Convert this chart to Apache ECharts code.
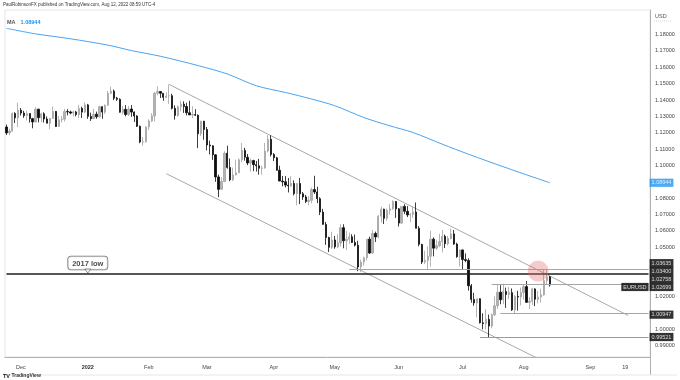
<!DOCTYPE html>
<html><head><meta charset="utf-8">
<script src="https://cdn.jsdelivr.net/npm/echarts@6/dist/echarts.min.js"></script>
<style>html,body{margin:0;padding:0;background:#fff}#c{width:680px;height:380px}</style>
</head><body><div id="c"></div>
<script>
// ---------- data (daily EURUSD, [open, high, low, close]) ----------
const startDate = '2021-11-24';
const nAxisDays = 222; // weekdays shown on the time axis (data + right margin)

const nov21 = [[1.1235,1.1250,1.1186,1.1199],[1.1199,1.1225,1.1184,1.1210],[1.1210,1.1324,1.1205,1.1318],[1.1318,1.1325,1.1259,1.1291],[1.1291,1.1383,1.1235,1.1338]];
const dec21 = [[1.1338,1.1351,1.1305,1.1320],[1.1320,1.1334,1.1291,1.1304],[1.1304,1.1334,1.1275,1.1317],[1.1317,1.1319,1.1262,1.1286],[1.1286,1.1291,1.1227,1.1266],
  [1.1266,1.1355,1.1263,1.1344],[1.1344,1.1346,1.1263,1.1292],[1.1292,1.1321,1.1264,1.1316],[1.1316,1.1325,1.1262,1.1284],[1.1284,1.1300,1.1258,1.1258],
  [1.1258,1.1289,1.1222,1.1288],[1.1288,1.1360,1.1284,1.1330],[1.1330,1.1333,1.1235,1.1238],[1.1238,1.1302,1.1236,1.1279],[1.1279,1.1302,1.1262,1.1283],
  [1.1283,1.1346,1.1268,1.1329],[1.1329,1.1344,1.1306,1.1327],[1.1327,1.1335,1.1313,1.1320],[1.1320,1.1334,1.1300,1.1327],[1.1327,1.1333,1.1300,1.1311],
  [1.1311,1.1370,1.1290,1.1349],[1.1349,1.1359,1.1290,1.1326],[1.1326,1.1386,1.1320,1.1370]];
const jan22 = [[1.1370,1.1376,1.1285,1.1300],[1.1300,1.1323,1.1272,1.1286],[1.1286,1.1346,1.1285,1.1313],[1.1313,1.1329,1.1285,1.1297],[1.1297,1.1364,1.1293,1.1359],
  [1.1359,1.1361,1.1285,1.1326],[1.1326,1.1373,1.1315,1.1368],[1.1368,1.1455,1.1364,1.1441],[1.1441,1.1482,1.1436,1.1454],[1.1454,1.1464,1.1399,1.1411],
  [1.1411,1.1419,1.1394,1.1404],[1.1404,1.1410,1.1323,1.1325],[1.1325,1.1363,1.1312,1.1343],[1.1343,1.1369,1.1300,1.1311],[1.1311,1.1363,1.1303,1.1345],
  [1.1345,1.1369,1.1297,1.1326],[1.1326,1.1330,1.1266,1.1302],[1.1302,1.1307,1.1235,1.1239],[1.1239,1.1244,1.1136,1.1143],[1.1143,1.1174,1.1121,1.1145],
  [1.1145,1.1239,1.1139,1.1235]];
const feb22 = [[1.1235,1.1282,1.1215,1.1272],[1.1272,1.1319,1.1266,1.1303],[1.1303,1.1449,1.1268,1.1441],[1.1441,1.1483,1.1428,1.1452],
  [1.1452,1.1454,1.1412,1.1441],[1.1441,1.1441,1.1395,1.1416],[1.1416,1.1447,1.1410,1.1424],[1.1424,1.1495,1.1376,1.1426],[1.1426,1.1438,1.1342,1.1349],
  [1.1349,1.1367,1.1280,1.1306],[1.1306,1.1367,1.1298,1.1359],[1.1359,1.1395,1.1331,1.1374],[1.1374,1.1392,1.1321,1.1360],[1.1360,1.1383,1.1306,1.1322],
  [1.1322,1.1395,1.1309,1.1309],[1.1309,1.1362,1.1289,1.1311],[1.1311,1.1344,1.1302,1.1307],[1.1307,1.1312,1.1106,1.1194],[1.1194,1.1273,1.1180,1.1270],
  [1.1270,1.1273,1.1157,1.1220]];
const mar22 = [[1.1220,1.1235,1.1092,1.1125],[1.1125,1.1152,1.1068,1.1120],[1.1120,1.1123,1.1034,1.1065],[1.1065,1.1068,1.0900,1.0930],
  [1.0930,1.0944,1.0806,1.0854],[1.0854,1.0929,1.0851,1.0902],[1.0902,1.1087,1.0900,1.1075],[1.1075,1.1121,1.0980,1.0988],[1.0988,1.1043,1.0904,1.0912],
  [1.0912,1.0987,1.0905,1.0942],[1.0942,1.1035,1.0940,1.0955],[1.0955,1.1043,1.0954,1.1035],[1.1035,1.1137,1.1020,1.1092],[1.1092,1.1108,1.1029,1.1050],
  [1.1050,1.1070,1.1002,1.1015],[1.1015,1.1043,1.0961,1.1030],[1.1030,1.1035,1.0965,1.1005],[1.1005,1.1028,1.0963,1.0998],[1.0998,1.1040,1.0944,1.0983],
  [1.0983,1.0998,1.0945,1.0985],[1.0985,1.1138,1.0980,1.1088],[1.1088,1.1185,1.1080,1.1160],[1.1160,1.1184,1.1055,1.1067]];
const apr22 = [[1.1067,1.1076,1.1027,1.1047],
  [1.1047,1.1053,1.0968,1.0971],[1.0971,1.0998,1.0904,1.0905],[1.0905,1.0936,1.0873,1.0900],[1.0900,1.0935,1.0866,1.0880],[1.0880,1.0924,1.0835,1.0875],
  [1.0875,1.0935,1.0870,1.0890],[1.0890,1.0909,1.0817,1.0828],[1.0828,1.0891,1.0757,1.0890],[1.0890,1.0924,1.0764,1.0827],[1.0827,1.0838,1.0790,1.0808],
  [1.0808,1.0820,1.0770,1.0780],[1.0780,1.0812,1.0757,1.0787],[1.0787,1.0865,1.0768,1.0853],[1.0853,1.0937,1.0826,1.0838],[1.0838,1.0870,1.0770,1.0797],
  [1.0797,1.0806,1.0697,1.0715],[1.0715,1.0735,1.0640,1.0640],[1.0640,1.0655,1.0515,1.0560],[1.0560,1.0565,1.0471,1.0500],[1.0500,1.0595,1.0490,1.0545]];
const may22 = [[1.0545,1.0570,1.0491,1.0503],[1.0503,1.0580,1.0495,1.0527],[1.0527,1.0642,1.0505,1.0620],[1.0620,1.0641,1.0494,1.0540],[1.0540,1.0600,1.0483,1.0550],
  [1.0550,1.0590,1.0522,1.0564],[1.0564,1.0580,1.0527,1.0530],[1.0530,1.0578,1.0505,1.0513],[1.0513,1.0540,1.0354,1.0380],[1.0380,1.0425,1.0350,1.0410],
  [1.0410,1.0443,1.0389,1.0436],[1.0436,1.0550,1.0420,1.0550],[1.0550,1.0565,1.0460,1.0465],[1.0465,1.0606,1.0460,1.0585],[1.0585,1.0596,1.0533,1.0563],
  [1.0563,1.0697,1.0555,1.0690],[1.0690,1.0748,1.0650,1.0733],[1.0733,1.0736,1.0642,1.0677],[1.0677,1.0737,1.0662,1.0726],[1.0726,1.0765,1.0700,1.0735],
  [1.0735,1.0787,1.0730,1.0780],[1.0780,1.0781,1.0680,1.0735]];
const jun22 = [[1.0735,1.0740,1.0627,1.0648],[1.0648,1.0751,1.0642,1.0750],[1.0750,1.0763,1.0703,1.0720],
  [1.0720,1.0752,1.0685,1.0698],[1.0698,1.0710,1.0653,1.0701],[1.0701,1.0749,1.0679,1.0716],[1.0716,1.0774,1.0616,1.0616],[1.0616,1.0630,1.0506,1.0518],
  [1.0518,1.0521,1.0398,1.0410],[1.0410,1.0479,1.0397,1.0420],[1.0420,1.0505,1.0359,1.0445],[1.0445,1.0601,1.0382,1.0550],[1.0550,1.0561,1.0445,1.0495],
  [1.0495,1.0547,1.0484,1.0510],[1.0510,1.0583,1.0501,1.0535],[1.0535,1.0606,1.0469,1.0567],[1.0567,1.0578,1.0496,1.0522],[1.0522,1.0570,1.0512,1.0554],
  [1.0554,1.0615,1.0548,1.0582],[1.0582,1.0606,1.0515,1.0520],[1.0520,1.0528,1.0436,1.0443],[1.0443,1.0487,1.0382,1.0484]];
const jul22 = [[1.0484,1.0486,1.0366,1.0425],
  [1.0425,1.0463,1.0409,1.0420],[1.0420,1.0433,1.0235,1.0265],[1.0265,1.0276,1.0162,1.0182],[1.0182,1.0222,1.0143,1.0160],[1.0160,1.0186,1.0072,1.0186],
  [1.0186,1.0188,1.0035,1.0039],[1.0039,1.0097,0.9999,1.0034],[1.0034,1.0122,0.9998,1.0060],[1.0060,1.0089,0.9952,1.0019],[1.0019,1.0096,1.0005,1.0088],
  [1.0088,1.0200,1.0080,1.0143],[1.0143,1.0273,1.0124,1.0226],[1.0226,1.0269,1.0152,1.0180],[1.0180,1.0278,1.0153,1.0230],[1.0230,1.0254,1.0130,1.0212],
  [1.0212,1.0258,1.0184,1.0223],[1.0223,1.0249,1.0111,1.0118],[1.0118,1.0208,1.0097,1.0200],[1.0200,1.0234,1.0113,1.0196],[1.0196,1.0254,1.0145,1.0224]];
const aug22 = [[1.0224,1.0275,1.0180,1.0260],[1.0260,1.0294,1.0160,1.0164],[1.0164,1.0196,1.0123,1.0170],[1.0170,1.0253,1.0148,1.0246],[1.0246,1.0250,1.0141,1.0183],
  [1.0183,1.0234,1.0158,1.0196],[1.0196,1.0248,1.0162,1.0211],[1.0211,1.0368,1.0203,1.0297],[1.0297,1.0364,1.0272,1.0320],[1.0320,1.0325,1.0260,1.0270]];

// 200-day moving average, read at roughly weekly points
const maPoints = [['2021-11-24',1.1838],['2021-12-08',1.1804],['2021-12-24',1.1774],['2022-01-12',1.1735],['2022-01-24',1.1702],
  ['2022-02-07',1.1667],['2022-02-24',1.1610],['2022-03-10',1.1559],['2022-03-24',1.1487],['2022-04-07',1.1446],['2022-04-20',1.1406],
  ['2022-05-02',1.1365],['2022-05-16',1.1293],['2022-05-27',1.1242],['2022-06-08',1.1201],['2022-06-22',1.1130],['2022-07-05',1.1069],
  ['2022-07-22',1.0986],['2022-08-12',1.08944]];

// horizontal levels
const levelValues = [1.03400, 1.03635, 1.02758, 1.00947, 0.99521];
const levelStarts = ['2021-11-24','2022-05-09','2022-07-15','2022-07-20','2022-07-11'];
// channel trend lines [startDate, startValue, endDate, endValue]
const upperChannel = ['2022-02-10', 1.1495, '2022-09-20', 1.00835];
const lowerChannel = ['2022-02-09', 1.0950, '2022-08-08', 0.9820];
const circleMark = ['2022-08-08', 1.0355];
const lowLabel = ['2022-01-03', 1.034, '2017 low'];

// price-axis tags
const tagValues = [1.08944, 1.03635, 1.03400, 1.02758, 1.02699, 1.00947, 0.99521];
const lastPrice = 1.02699;
const symbolName = 'EURUSD';

// axis ticks
const priceTicks = [1.18,1.17,1.16,1.15,1.14,1.13,1.12,1.11,1.10,1.08,1.07,1.06,1.05,1.02,1.00,0.99];
const timeTickDates = ['2021-12-01','2022-01-03','2022-02-01','2022-03-01','2022-04-01','2022-05-02','2022-06-01','2022-07-01','2022-08-01','2022-09-01','2022-09-19'];
const timeTickLabels = ['Dec','2022','Feb','Mar','Apr','May','Jun','Jul','Aug','Sep','19'];

// ---------- build ----------
const categories = [];
{ const d = new Date(startDate + 'T00:00:00Z');
  while (categories.length < nAxisDays) {
    const w = d.getUTCDay();
    if (w !== 0 && w !== 6) categories.push(d.toISOString().slice(0, 10));
    d.setUTCDate(d.getUTCDate() + 1);
  } }
const lastCat = categories[categories.length - 1];
const bars = [].concat(nov21, dec21, jan22, feb22, mar22, apr22, may22, jun22, jul22, aug22);
const candleData = bars.map(b => [b[0], b[3], b[2], b[1]]);

const FONT = '"Liberation Sans", Arial, sans-serif';
const levelStyle = [
  {color: '#1e1e1e', width: 1.5},
  {color: '#a6a6a6', width: 1},
  {color: '#a6a6a6', width: 1},
  {color: '#a6a6a6', width: 1},
  {color: '#9a9a9a', width: 1}
];
const tagStyle = [
  {bg: '#2196f3', dy: 0}, {bg: '#000', dy: -6.5}, {bg: '#000', dy: -2.5},
  {bg: '#000', dy: -5}, {bg: '#000', dy: 2}, {bg: '#000', dy: 1}, {bg: '#000', dy: 0}
];

const chart = echarts.init(document.getElementById('c'), null, {renderer: 'canvas'});
chart.setOption({
  animation: false,
  backgroundColor: '#ffffff',
  textStyle: {fontFamily: FONT},
  title: [
    {text: 'PaulRobinsonFX published on TradingView.com, Aug 12, 2022 08:59 UTC-4', left: 3, top: 2, padding: 0,
     textStyle: {fontSize: 4.5, color: '#333', fontWeight: 'normal', fontFamily: FONT}},
    {text: '{a|MA} {b|' + maPoints[maPoints.length - 1][1].toFixed(5) + '}', left: 7, top: 13, padding: 0,
     textStyle: {fontFamily: FONT, rich: {a: {fontSize: 5.5, color: '#555'}, b: {fontSize: 5.5, color: '#2196f3'}}}},
    {text: 'USD', left: 655, top: 13, padding: 0, textStyle: {fontSize: 5.5, color: '#555', fontWeight: 'normal', fontFamily: FONT}},
    {text: '{l|TV} TradingView', left: 3, top: 373, padding: 0,
     textStyle: {fontFamily: FONT, rich: {l: {fontSize: 5.5, fontWeight: 'bold', color: '#131722'}}, fontSize: 5, color: '#333'}}
  ],
  graphic: [
    {type: 'line', shape: {x1: 650.5, y1: 357, x2: 650.5, y2: 375}, style: {stroke: '#b0b0b0', lineWidth: 1}, silent: true},
    {type: 'line', shape: {x1: 3, y1: 375, x2: 677, y2: 375}, style: {stroke: '#e6e6e6', lineWidth: 1}, silent: true},
    {type: 'line', shape: {x1: 654, y1: 21, x2: 672, y2: 21}, style: {stroke: '#bbb', lineWidth: 0.6, lineDash: [1, 1]}, silent: true}
  ],
  grid: {left: 5, right: 30, top: 10, bottom: 23, show: true, borderColor: '#e6e6e6', borderWidth: 1, containLabel: false},
  xAxis: {
    type: 'category', data: categories, boundaryGap: true,
    axisLine: {lineStyle: {color: '#b0b0b0'}}, axisTick: {show: false}, splitLine: {show: false},
    axisLabel: {
      interval: (i, v) => timeTickDates.includes(v),
      formatter: v => { const t = timeTickLabels[timeTickDates.indexOf(v)]; return t === '2022' ? '{y|' + t + '}' : t; },
      fontSize: 5.5, color: '#444', margin: 7, fontFamily: FONT,
      rich: {y: {fontSize: 5.5, fontWeight: 'bold', color: '#333'}}
    }
  },
  yAxis: {
    type: 'value', position: 'right', min: 0.98300, max: 1.19497, scale: true,
    axisLine: {show: true, lineStyle: {color: '#b0b0b0'}}, axisTick: {show: false}, splitLine: {show: false},
    axisLabel: {customValues: priceTicks, formatter: v => v.toFixed(5), fontSize: 5.5, color: '#444', margin: 5, fontFamily: FONT}
  },
  series: [
    {
      name: 'MA', type: 'line', data: maPoints, showSymbol: false, smooth: 0.3,
      lineStyle: {color: '#4aa3f0', width: 1}, z: 2, silent: true
    },
    {
      name: 'upper', type: 'line', data: [[upperChannel[0], upperChannel[1]], [upperChannel[2], upperChannel[3]]],
      showSymbol: false, lineStyle: {color: '#a8a8a8', width: 1}, z: 2, silent: true
    },
    {
      name: 'lower', type: 'line', data: [[lowerChannel[0], lowerChannel[1]], [lowerChannel[2], lowerChannel[3]]],
      showSymbol: false, lineStyle: {color: '#a8a8a8', width: 1}, z: 2, silent: true
    },
    {
      name: symbolName, type: 'candlestick', data: candleData, barWidth: 1.8, z: 3,
      itemStyle: {color: '#b4b4b4', color0: '#0d0d0d', borderColor: '#a2a2a2', borderColor0: '#0d0d0d', borderWidth: 0.8},
      markLine: {
        silent: true, symbol: ['none', 'none'], animation: false, label: {show: false},
        data: levelValues.map((v, i) => [
          {coord: [levelStarts[i], v], lineStyle: {color: levelStyle[i].color, width: levelStyle[i].width, type: 'solid'}},
          {coord: [lastCat, v]}
        ])
      }
    },
    {
      name: 'circle', type: 'scatter', data: [[circleMark[0], circleMark[1]]], symbol: 'circle', symbolSize: 21,
      itemStyle: {color: 'rgba(229,110,110,0.45)'}, z: 5, silent: true
    },
    {
      name: 'lowLabel', type: 'scatter', z: 8, silent: true,
      data: [{value: [lowLabel[0], lowLabel[1]], symbolSize: 0.01, itemStyle: {color: 'transparent'},
        label: {show: true, position: 'top', distance: 4, formatter: lowLabel[2], fontSize: 7.5, fontWeight: 'bold',
          color: '#131722', backgroundColor: '#fff', borderColor: '#555', borderWidth: 0.8, borderRadius: 3, padding: [3, 4, 2, 4], fontFamily: FONT}}]
    },
    {
      name: 'lowPointer', type: 'scatter', z: 9, silent: true,
      data: [{value: [lowLabel[0], lowLabel[1]], symbol: 'triangle', symbolRotate: 180, symbolSize: [6, 4], symbolOffset: [0, -2.5],
        itemStyle: {color: '#fff', borderColor: '#555', borderWidth: 0.8}}]
    },
    {
      name: 'tags', type: 'scatter', z: 10, silent: true, clip: false,
      data: tagValues.map((v, i) => ({
        value: [lastCat, v], symbolSize: 0.01, itemStyle: {color: 'transparent'},
        label: {show: true, position: 'right', distance: 1, offset: [0, tagStyle[i].dy], formatter: v.toFixed(5),
          backgroundColor: tagStyle[i].bg, color: '#fff', fontSize: 5.5, padding: [1.2, 2, 1, 2], fontFamily: FONT}
      })).concat([{
        value: [lastCat, lastPrice], symbolSize: 0.01, itemStyle: {color: 'transparent'},
        label: {show: true, position: 'left', distance: 0, offset: [0, 2], formatter: symbolName,
          backgroundColor: '#000', color: '#fff', fontSize: 5.5, padding: [1.2, 2, 1, 2], fontFamily: FONT}
      }])
    }
  ]
});
</script></body></html>
